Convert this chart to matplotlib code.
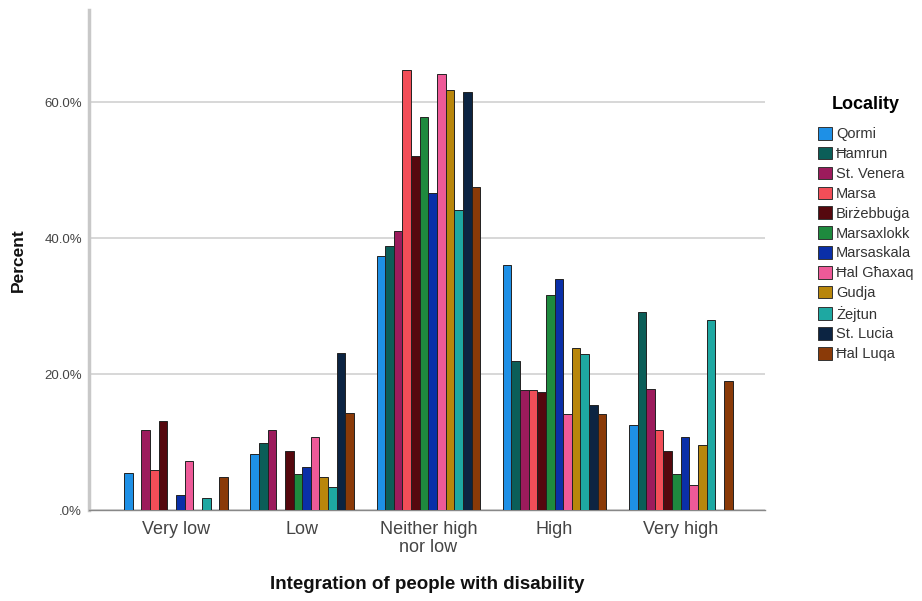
import matplotlib
matplotlib.use("Agg")
import matplotlib.pyplot as plt
import numpy as np
from matplotlib.patches import Patch

categories = ["Very low", "Low", "Neither high\nnor low", "High", "Very high"]
localities = ["Qormi", "Ħamrun", "St. Venera", "Marsa", "Birżebbuġa", "Marsaxlokk",
              "Marsaskala", "Ħal Għaxaq", "Gudja", "Żejtun", "St. Lucia", "Ħal Luqa"]
colors = ["#1E90E6", "#0B5E58", "#9C1B5C", "#F24E58", "#55080E", "#1E8A3E",
          "#0A2FA8", "#EE5A98", "#B8860B", "#1EA8A2", "#0C2442", "#8A3A08"]

qormi      = [5.5, 8.3, 37.4, 36.1, 12.5]
hamrun     = [0.0, 9.8, 38.9, 21.9, 29.2]
st_venera  = [11.8, 11.8, 41.1, 17.7, 17.8]
marsa      = [5.9, 0.0, 64.7, 17.7, 11.8]
birzebbuga = [13.1, 8.7, 52.1, 17.4, 8.7]
marsaxlokk = [0.0, 5.3, 57.8, 31.6, 5.3]
marsaskala = [2.2, 6.4, 46.7, 34.0, 10.7]
hal_ghaxaq = [7.2, 10.7, 64.2, 14.2, 3.7]
gudja      = [0.0, 4.9, 61.9, 23.8, 9.6]
zejtun     = [1.7, 3.4, 44.2, 22.9, 27.9]
st_lucia   = [0.0, 23.1, 61.5, 15.4, 0.0]
hal_luqa   = [4.8, 14.3, 47.5, 14.2, 19.0]

series = [qormi, hamrun, st_venera, marsa, birzebbuga, marsaxlokk,
          marsaskala, hal_ghaxaq, gudja, zejtun, st_lucia, hal_luqa]

yticks = [0, 20, 40, 60]
ytick_labels = [".0%", "20.0%", "40.0%", "60.0%"]

plt.rcParams['font.family'] = ['Liberation Sans', 'DejaVu Sans']

fig = plt.figure(figsize=(9.22, 6.01), dpi=100)
ax = fig.add_axes([0.0965, 0.1514, 0.7335, 0.8319])

x = np.arange(len(categories))
bw = 0.0685
n = len(series)
for i, (vals, col, name) in enumerate(zip(series, colors, localities)):
    offs = (i - (n - 1) / 2) * bw
    ax.bar(x + offs, vals, width=bw, color=col, edgecolor="#222222", linewidth=0.7,
           label=name, zorder=3)

ax.set_xlim(-0.69, 4.67)
ax.set_ylim(0, 73.6)
ax.set_yticks(yticks)
ax.set_yticklabels(ytick_labels, fontsize=9.5, color="#444444")
ax.set_xticks(x)
ax.set_xticklabels(categories, fontsize=13, color="#444444", linespacing=1.1)
ax.tick_params(axis="x", length=0, pad=8)
ax.tick_params(axis="y", length=0, pad=5)
ax.yaxis.grid(True, color="#d4d4d4", linewidth=1.3, zorder=0)
ax.set_axisbelow(True)
for s in ["top", "right"]:
    ax.spines[s].set_visible(False)
ax.spines["left"].set_color("#c8c8c8")
ax.spines["left"].set_linewidth(2.5)
ax.spines["bottom"].set_color("#888888")
ax.spines["bottom"].set_linewidth(1.0)

ax.set_xlabel("Integration of people with disability", fontsize=13.5, fontweight="bold",
              color="#111111")
ax.xaxis.set_label_coords(0.5, -0.132)
ax.set_ylabel("Percent", fontsize=12.5, fontweight="bold", color="#111111")
ax.yaxis.set_label_coords(-0.093, 0.5)

handles = [Patch(facecolor=c, edgecolor="#333333", linewidth=0.7) for c in colors]
leg = fig.legend(handles, localities, loc="upper left", bbox_to_anchor=(0.887, 0.84),
                 frameon=False, fontsize=10.5, title="Locality",
                 title_fontproperties={"weight": "bold", "size": 13},
                 handlelength=0.95, handleheight=0.95, handletextpad=0.3,
                 labelspacing=0.38, borderaxespad=0, borderpad=0)
leg._legend_box.sep = 10
for t in leg.get_texts():
    t.set_color("#333333")

fig.savefig("out.png", dpi=100)
